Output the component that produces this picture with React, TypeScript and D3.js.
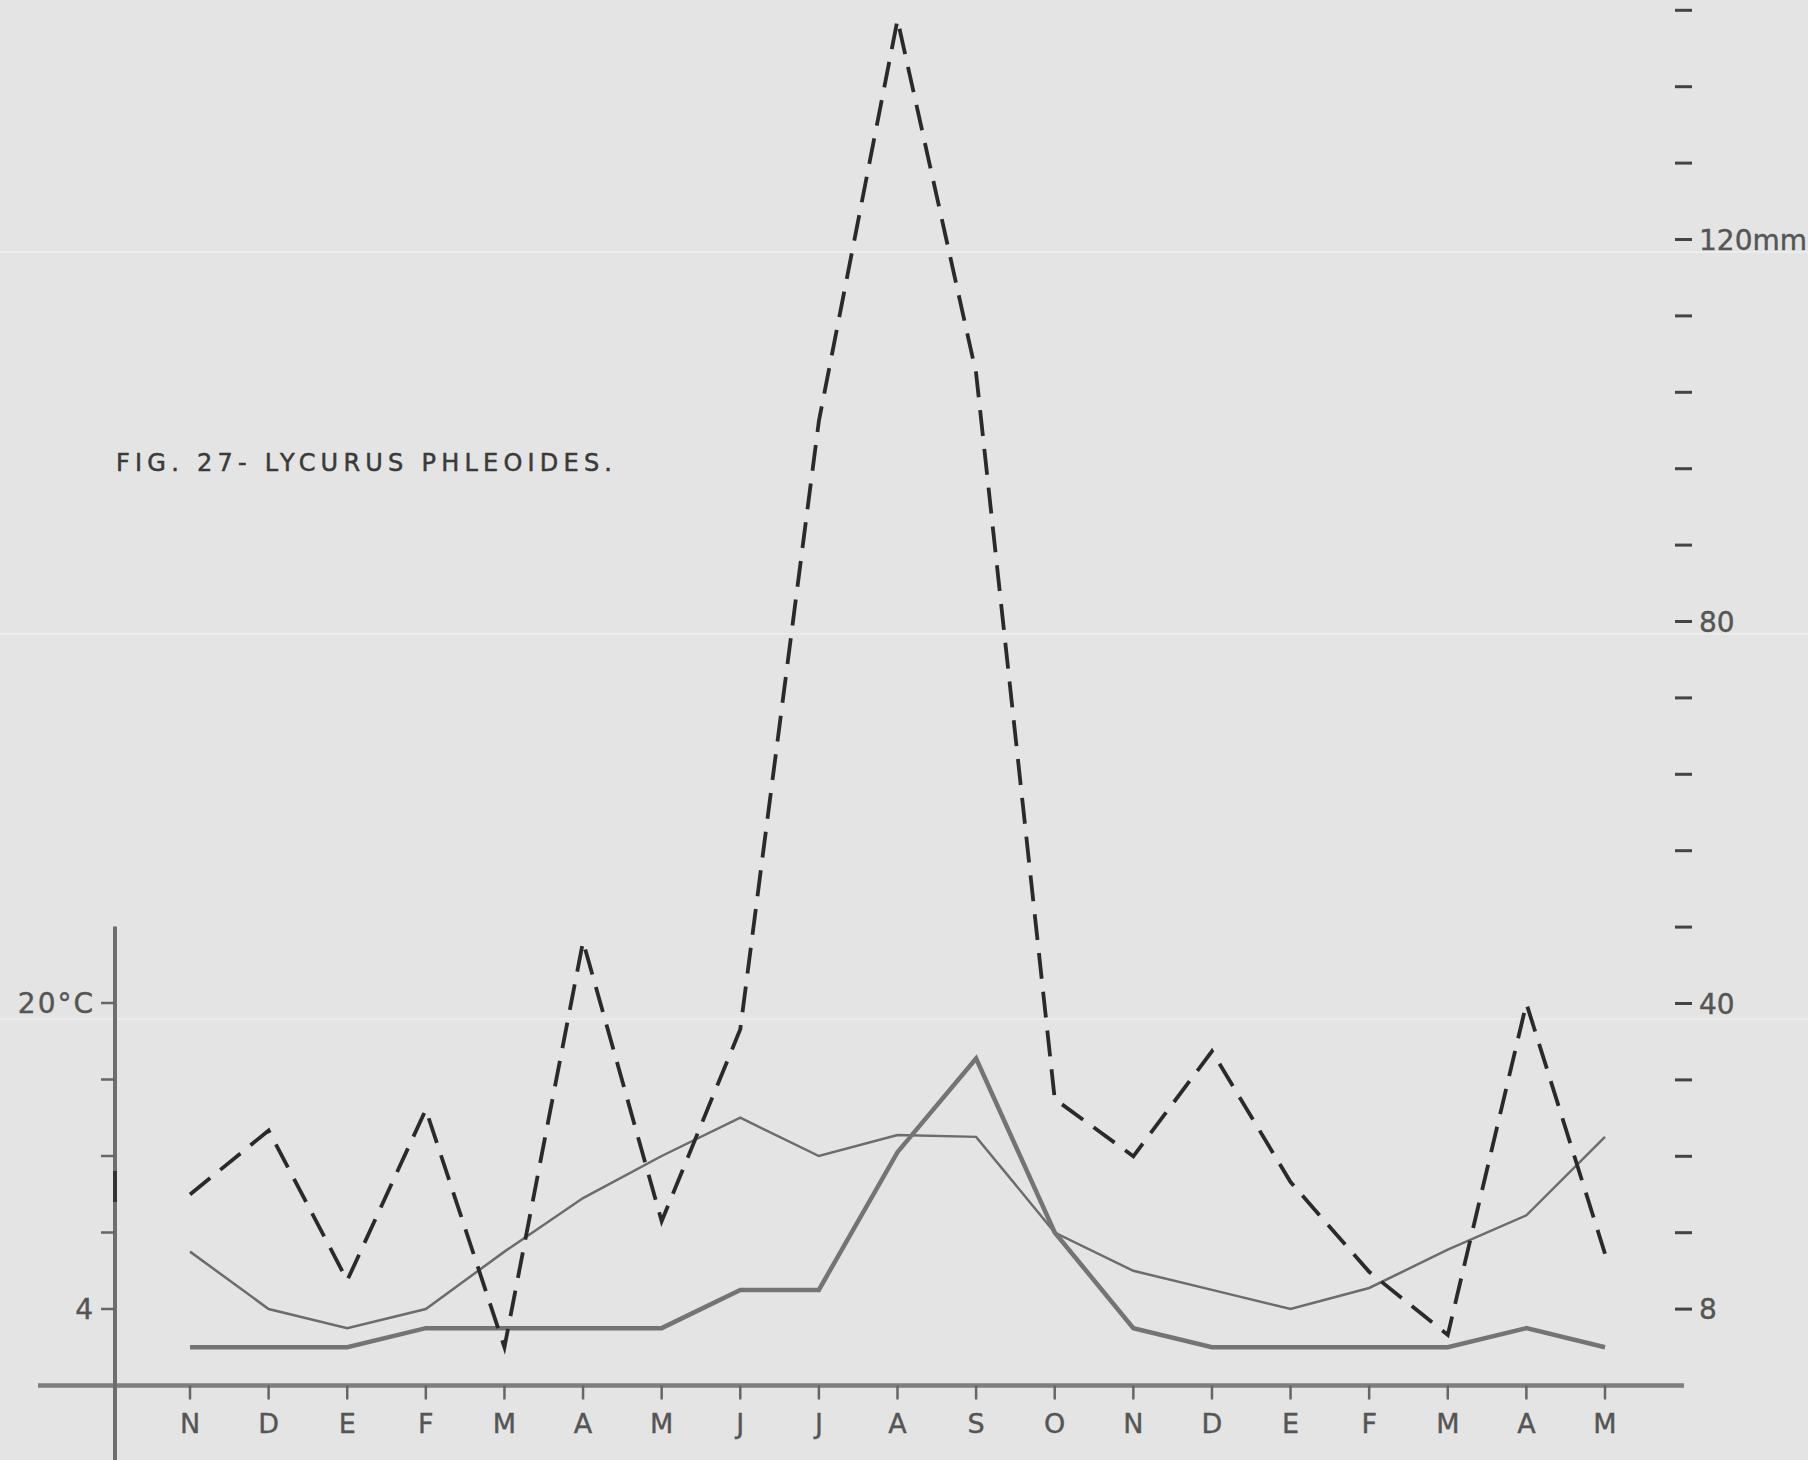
import React from "react";
import * as d3 from "d3";

// Month categories (Nov .. May of the following year and a half)
const months = ["N", "D", "E", "F", "M", "A", "M", "J", "J", "A", "S", "O", "N", "D", "E", "F", "M", "A", "M"];
// Thin solid line (°C, left scale)
const tempThin = [7, 4, 3, 4, 7, 9.8, 12, 14, 12, 13.1, 13, 8, 6, 5, 4, 5.1, 7.1, 8.9, 13];
// Thick solid line (°C, left scale)
const tempThick = [2, 2, 2, 3, 3, 3, 3, 5, 5, 12.2, 17.1, 8, 3, 2, 2, 2, 2, 3, 2];
// Dashed line (mm, right scale)
const precip = [20, 26.7, 11, 28.9, 4, 46.5, 17.2, 37.3, 101, 143, 106, 30, 24, 35, 21.3, 11.9, 5.3, 40, 13.8];

const tempTicks = [4, 8, 12, 16, 20];
const tempTickLabels = [
  { v: 20, t: "20°C" },
  { v: 4, t: "4" },
];
const precipTicks = [8, 16, 24, 32, 40, 48, 56, 64, 72, 80, 88, 96, 104, 112, 120, 128, 136, 144];
const precipTickLabels = [
  { v: 8, t: "8" },
  { v: 40, t: "40" },
  { v: 80, t: "80" },
  { v: 120, t: "120mm" },
];
const title = "FIG. 27- LYCURUS PHLEOIDES.";

const W = 1808;
const H = 1460;
const BASE = 1385.5;

export default function App() {
  const idx = d3.range(months.length);
  const x = d3.scalePoint<number>().domain(idx).range([190, 1605]);
  const yT = d3.scaleLinear().domain([0, 20]).range([BASE, 1003]);
  const yP = d3.scaleLinear().domain([0, 144]).range([BASE, BASE - 144 * 9.55]);

  const lineT = d3
    .line<number>()
    .x((_, i) => x(i) as number)
    .y((d) => yT(d));
  const lineP = d3
    .line<number>()
    .x((_, i) => x(i) as number)
    .y((d) => yP(d));

  const font = "'DejaVu Sans', 'Liberation Sans', sans-serif";
  const axisX = 115;

  return (
    <div style={{ position: "absolute", left: 0, top: 0 }}>
      <svg width={W} height={H} viewBox={`0 0 ${W} ${H}`} style={{ display: "block" }}>
        <rect x={0} y={0} width={W} height={H} fill="#e4e4e4" />
        {/* faint scan streaks */}
        {[252, 634, 1019].map((yy) => (
          <line key={yy} x1={0} x2={W} y1={yy} y2={yy} stroke="#f3f3f3" strokeWidth={1.5} opacity={0.8} />
        ))}

        {/* title */}
        <text
          x={116}
          y={471}
          fontFamily={font}
          fontSize={24}
          fill="#3a3a3a"
          stroke="#3a3a3a"
          strokeWidth={0.5}
          textLength={496}
          lengthAdjust="spacing"
        >
          {title}
        </text>

        {/* horizontal axis */}
        <line x1={38} x2={1684} y1={BASE} y2={BASE} stroke="#7e7e7e" strokeWidth={4.5} />
        {idx.map((i) => (
          <line
            key={"mt" + i}
            x1={x(i)}
            x2={x(i)}
            y1={BASE}
            y2={BASE + 14}
            stroke="#666"
            strokeWidth={2.5}
          />
        ))}
        {months.map((m, i) => (
          <text
            key={"ml" + i}
            x={x(i)}
            y={1433}
            textAnchor="middle"
            fontFamily={font}
            fontSize={27}
            fill="#555"
            stroke="#555"
            strokeWidth={0.4}
          >
            {m}
          </text>
        ))}

        {/* left vertical axis */}
        <line x1={axisX} x2={axisX} y1={yT(24)} y2={H} stroke="#6e6e6e" strokeWidth={4} />
        <line x1={axisX} x2={axisX} y1={1171} y2={1202} stroke="#333" strokeWidth={4} />
        {tempTicks.map((t) => (
          <line key={"tt" + t} x1={101} x2={axisX} y1={yT(t)} y2={yT(t)} stroke="#666" strokeWidth={2.5} />
        ))}
        {tempTickLabels.map((l) => (
          <text
            key={"tl" + l.v}
            x={95}
            y={yT(l.v) + 10}
            textAnchor="end"
            fontFamily={font}
            fontSize={28}
            letterSpacing={2}
            fill="#555"
            stroke="#555"
            strokeWidth={0.4}
          >
            {l.t}
          </text>
        ))}

        {/* right scale ticks */}
        {precipTicks.map((p) => (
          <line key={"pt" + p} x1={1675} x2={1692} y1={yP(p)} y2={yP(p)} stroke="#444" strokeWidth={3} />
        ))}
        {precipTickLabels.map((l) => (
          <text
            key={"pl" + l.v}
            x={1699}
            y={yP(l.v) + 10}
            fontFamily={font}
            fontSize={28}
            fill="#555"
            stroke="#555"
            strokeWidth={0.4}
          >
            {l.t}
          </text>
        ))}

        {/* data lines */}
        <path d={lineT(tempThin) || ""} fill="none" stroke="#6c6c6c" strokeWidth={2.5} strokeLinejoin="miter" />
        <path d={lineT(tempThick) || ""} fill="none" stroke="#747474" strokeWidth={4.5} strokeLinejoin="miter" />
        <path
          d={lineP(precip) || ""}
          fill="none"
          stroke="#2a2a2a"
          strokeWidth={3.8}
          strokeDasharray="26 13"
          strokeLinejoin="miter"
        />
      </svg>
    </div>
  );
}
